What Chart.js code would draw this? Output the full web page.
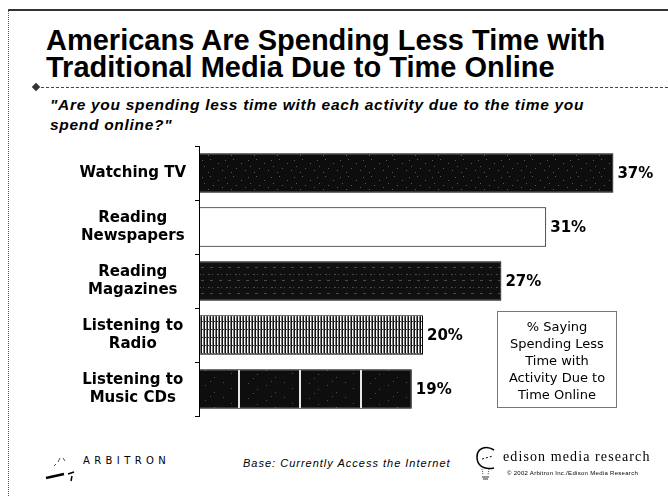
<!DOCTYPE html>
<html>
<head>
<meta charset="utf-8">
<script src="https://cdn.jsdelivr.net/npm/chart.js@4.4.1/dist/chart.umd.min.js"></script>
<style>
  html, body { margin: 0; padding: 0; background: #fff; }
  #slide { position: relative; width: 668px; height: 496px; overflow: hidden; background: #fff; }
  .abs { position: absolute; }
  #frame-top { left: 8px; top: 9px; width: 660px; height: 0; border-top: 2px solid #333; }
  #frame-left { left: 8px; top: 9px; width: 0; height: 487px; border-left: 1px dotted #555; }
  #titulo { left: 46px; top: 27px; font: bold 29px "Liberation Sans", Arial, sans-serif; line-height: 27px; color: #000; white-space: nowrap; }
  #linha { left: 36px; top: 87px; width: 632px; height: 0; border-top: 1px dashed #444; }
  #losango { left: 33px; top: 84px; width: 6px; height: 6px; background: #333; transform: rotate(45deg); }
  #pergunta { left: 50px; top: 95px; font: italic bold 15.5px "Liberation Sans", Arial, sans-serif; letter-spacing: 0.7px; line-height: 20px; color: #000; white-space: nowrap; }
  #caixa { left: 497px; top: 311px; width: 118px; height: 89px; border: 1px solid #777; text-align: center;
           font: 13px "DejaVu Sans", sans-serif; line-height: 17px; color: #000; padding-top: 6px; box-sizing: content-box; }
  #arbitron { left: 83px; top: 455px; font: 10px "DejaVu Sans", sans-serif; letter-spacing: 4.4px; color: #000; }
  #base { left: 243px; top: 457px; font: italic 11px "Liberation Sans", Arial, sans-serif; letter-spacing: 1px; color: #000; }
  #edison { left: 503px; top: 449px; font: 14px "Liberation Serif", serif; letter-spacing: 1.1px; color: #000; }
  #copy { left: 507px; top: 470px; font: 6px "Liberation Sans", sans-serif; letter-spacing: 0.3px; color: #000; }
  #grafico-box { left: 0; top: 140px; width: 668px; height: 290px; }
</style>
</head>
<body>
<div id="slide">
  <div class="abs" id="frame-top"></div>
  <div class="abs" id="frame-left"></div>
  <div class="abs" id="titulo">Americans Are Spending Less Time with<br>Traditional Media Due to Time Online</div>
  <div class="abs" id="linha"></div>
  <div class="abs" id="losango"></div>
  <div class="abs" id="pergunta">"Are you spending less time with each activity due to the time you<br>spend online?"</div>
  <div class="abs" id="grafico-box"><canvas id="meuGrafico" width="668" height="290"></canvas></div>
  <div class="abs" id="caixa">% Saying<br>Spending Less<br>Time with<br>Activity Due to<br>Time Online</div>
  <svg class="abs" style="left:44px;top:452px" width="40" height="32">
    <path d="M2 26 L20 22" stroke="#000" stroke-width="2.5"/>
    <path d="M24 22 L30 20" stroke="#000" stroke-width="1.5"/>
    <path d="M28 24 L27 29" stroke="#000" stroke-width="1.5"/>
    <path d="M14 10 L16 6 M19 6 L21 9 M10 14 L12 12" stroke="#555" stroke-width="1"/>
  </svg>
  <div class="abs" id="arbitron">ARBITRON</div>
  <div class="abs" id="base">Base: Currently Access the Internet</div>
  <svg class="abs" style="left:474px;top:444px" width="26" height="38">
    <path d="M20 6 C12 1, 3 4, 3 13 C3 22, 10 26, 20 24" fill="none" stroke="#000" stroke-width="1.5"/>
    <path d="M8 15 L19 12" stroke="#000" stroke-width="1" stroke-dasharray="2 2"/>
    <path d="M8 25 L9 31 M15 25 L14 31" stroke="#555" stroke-width="1" stroke-dasharray="1 1"/>
    <path d="M8 33 L15 33 M9 35 L14 35" stroke="#333" stroke-width="1"/>
  </svg>
  <div class="abs" id="edison">edison media research</div>
  <div class="abs" id="copy">© 2002 Arbitron Inc./Edison Media Research</div>
</div>

<script>
// categorias e valores (% que passa menos tempo)
const categorias = [
  ["Watching TV"],
  ["Reading", "Newspapers"],
  ["Reading", "Magazines"],
  ["Listening to", "Radio"],
  ["Listening to", "Music CDs"]
];
const valores = [37, 31, 27, 20, 19];
const eixoMax = 40;

function criarPadrao(largura, altura, desenhar) {
  const c = document.createElement('canvas');
  c.width = largura;
  c.height = altura;
  const g = c.getContext('2d');
  desenhar(g, largura, altura);
  return g.createPattern(c, 'repeat');
}

const ctx = document.getElementById('meuGrafico').getContext('2d');

// texturas das barras, parecidas com o slide escaneado
const padraoTV = criarPadrao(23, 17, (g, w, h) => {
  g.fillStyle = '#0d0d0d'; g.fillRect(0, 0, w, h);
  g.fillStyle = '#5a5a5a';
  [[3, 2], [11, 6], [18, 3], [6, 11], [15, 13], [20, 9], [1, 15]].forEach(p => g.fillRect(p[0], p[1], 1, 1));
});
const padraoRevistas = criarPadrao(9, 13, (g, w, h) => {
  g.fillStyle = '#101010'; g.fillRect(0, 0, w, h);
  g.fillStyle = '#4a4a4a';
  g.fillRect(1, 4, 2, 1); g.fillRect(5, 4, 1, 1);
  g.fillRect(3, 10, 3, 1);
});
const padraoRadio = criarPadrao(3, 8, (g, w, h) => {
  g.fillStyle = '#fff'; g.fillRect(0, 0, w, h);
  g.fillStyle = '#111'; g.fillRect(0, 0, 1, h);
  g.fillStyle = '#777'; g.fillRect(2, 0, 1, h);
  g.fillStyle = '#333'; g.fillRect(1, 5, 1, 1);
});
const padraoCDs = criarPadrao(61, 15, (g, w, h) => {
  g.fillStyle = '#0e0e0e'; g.fillRect(0, 0, w, h);
  g.fillStyle = '#4c4c4c';
  [[4, 3], [13, 9], [22, 5], [31, 12], [40, 2], [48, 8], [9, 13], [27, 1]].forEach(p => g.fillRect(p[0], p[1], 1, 1));
  g.fillStyle = '#e8e8e8'; g.fillRect(55, 0, 2, h);
});
const coresBarras = [padraoTV, '#ffffff', padraoRevistas, padraoRadio, padraoCDs];

const rotulosValores = {
  id: 'rotulosValores',
  afterDatasetsDraw(chart) {
    const c = chart.ctx;
    const meta = chart.getDatasetMeta(0);
    c.save();
    c.font = 'bold 15px "DejaVu Sans", sans-serif';
    c.fillStyle = '#000';
    c.textAlign = 'left';
    c.textBaseline = 'middle';
    meta.data.forEach((barra, i) => {
      c.fillText(valores[i] + '%', barra.x + 4, barra.y + 1);
    });
    c.restore();
  }
};

const meuGrafico = new Chart(ctx, {
  type: 'bar',
  data: {
    labels: categorias,
    datasets: [{
      data: valores,
      backgroundColor: coresBarras,
      borderColor: '#000',
      borderWidth: 1,
      borderSkipped: false,
      categoryPercentage: 1,
      barPercentage: 0.73
    }]
  },
  options: {
    indexAxis: 'y',
    responsive: false,
    animation: false,
    layout: { padding: { top: 6, right: 21, bottom: 14, left: 0 } },
    plugins: { legend: { display: false }, tooltip: { enabled: false } },
    scales: {
      x: { display: false, min: 0, max: eixoMax },
      y: {
        offset: true,
        grid: { display: true, drawOnChartArea: false, offset: true, tickLength: 4, color: '#000', lineWidth: 1 },
        border: { display: true, color: '#000', width: 1 },
        ticks: {
          color: '#000',
          crossAlign: 'center',
          padding: 9,
          font: { family: '"DejaVu Sans", sans-serif', weight: 'bold', size: 15, lineHeight: 1.25 }
        },
        afterFit(escala) {
          // largura fixa do eixo e sem folga extra para rótulos de duas linhas
          escala.width = 199;
          escala.paddingTop = 0;
          escala.paddingBottom = 0;
        }
      }
    }
  },
  plugins: [rotulosValores]
});
</script>
</body>
</html>
